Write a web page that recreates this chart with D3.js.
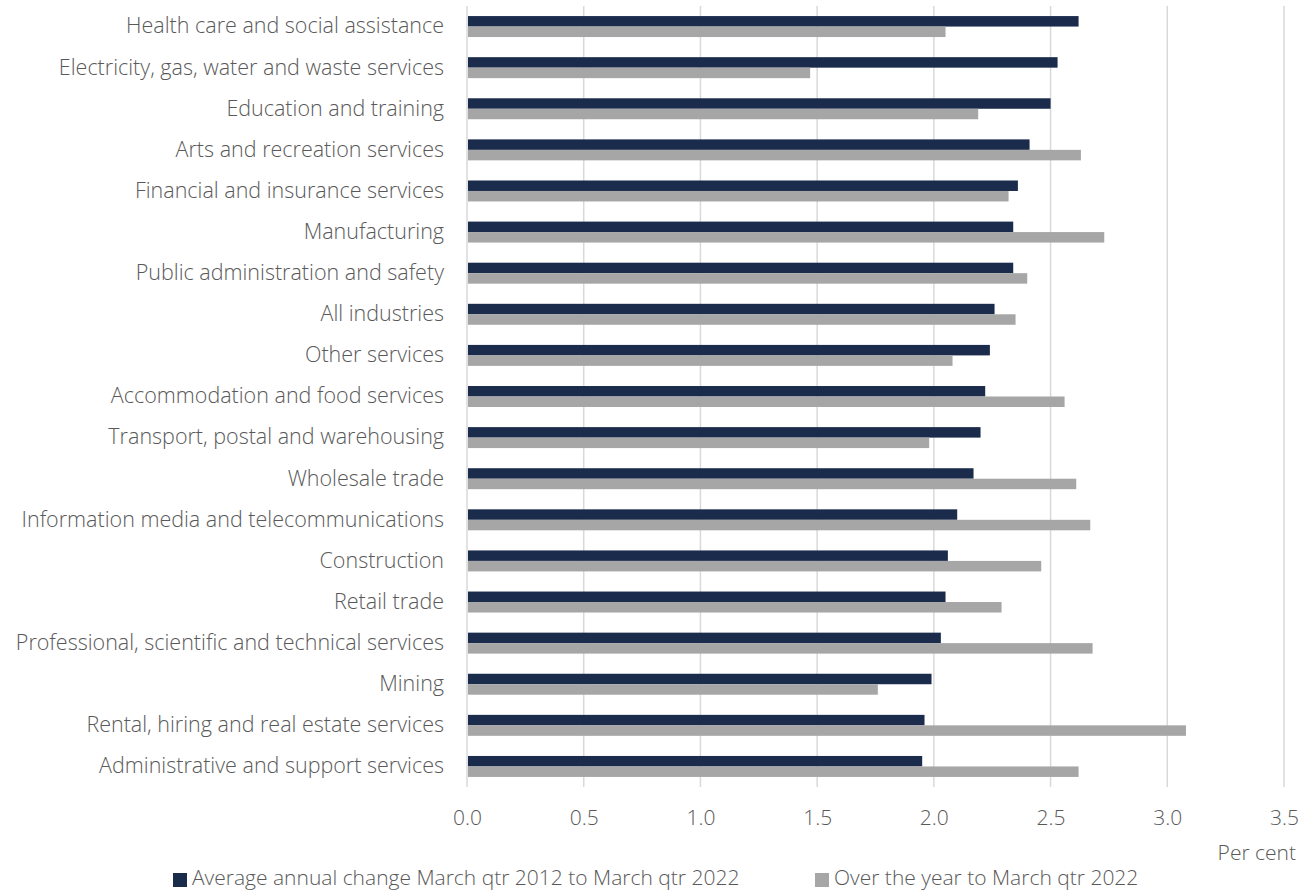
<!DOCTYPE html>
<html lang="en">
<head>
  <meta charset="UTF-8">
  <title>Wage growth by industry</title>
  <script src="https://cdn.jsdelivr.net/npm/d3@7"></script>
  <style>
    body { margin: 0; background: #fff; }
    text { font-family: "Open Sans", sans-serif; font-weight: 300; fill: #595959; }
  </style>
</head>
<body>
  <svg class="chart"></svg>
</body>
</html>
<script>
  var svgWidth = 1314;
  var svgHeight = 892;

  var industries = [
    'Health care and social assistance',
    'Electricity, gas, water and waste services',
    'Education and training',
    'Arts and recreation services',
    'Financial and insurance services',
    'Manufacturing',
    'Public administration and safety',
    'All industries',
    'Other services',
    'Accommodation and food services',
    'Transport, postal and warehousing',
    'Wholesale trade',
    'Information media and telecommunications',
    'Construction',
    'Retail trade',
    'Professional, scientific and technical services',
    'Mining',
    'Rental, hiring and real estate services',
    'Administrative and support services'
  ];
  var avgAnnual = [2.62, 2.53, 2.50, 2.41, 2.36, 2.34, 2.34, 2.26, 2.24, 2.22, 2.20, 2.17, 2.10, 2.06, 2.05, 2.03, 1.99, 1.96, 1.95];
  var overYear = [2.05, 1.47, 2.19, 2.63, 2.32, 2.73, 2.40, 2.35, 2.08, 2.56, 1.98, 2.61, 2.67, 2.46, 2.29, 2.68, 1.76, 3.08, 2.62];
  var seriesNames = ['Average annual change March qtr 2012 to March qtr 2022', 'Over the year to March qtr 2022'];
  var seriesColors = ['#1b2b4b', '#a6a6a6'];
  var xTicks = [0, 0.5, 1, 1.5, 2, 2.5, 3, 3.5];

  var margin = {top: 6, right: 30, bottom: 105, left: 467};
  var chartWidth = 1284 - margin.left;
  var chartHeight = 787 - margin.top;

  var xScale = d3.scaleLinear().domain([0, 3.5]).range([0, chartWidth]);
  var yScale = d3.scaleBand().domain(industries).range([0, chartHeight]).paddingInner(0.49).paddingOuter(0.245);
  var subScale = d3.scaleBand().domain([0, 1]).range([0, yScale.bandwidth()]);

  var svg = d3.select('.chart').attr('width', svgWidth).attr('height', svgHeight);
  var chart = svg.append('g').attr('transform', 'translate(' + margin.left + ',' + margin.top + ')');

  // gridlines
  chart.selectAll('line.grid')
    .data(xTicks)
    .enter()
    .append('line')
    .attr('class', 'grid')
    .attr('x1', function(d) { return xScale(d); })
    .attr('x2', function(d) { return xScale(d); })
    .attr('y1', 0)
    .attr('y2', chartHeight)
    .attr('stroke', '#d9d9d9')
    .attr('stroke-width', 1.5);

  var rows = industries.map(function(name, i) {
    return {name: name, values: [avgAnnual[i], overYear[i]]};
  });

  var group = chart.selectAll('g.row')
    .data(rows)
    .enter()
    .append('g')
    .attr('class', 'row')
    .attr('transform', function(d) { return 'translate(0,' + yScale(d.name) + ')'; });

  group.selectAll('rect')
    .data(function(d) { return d.values; })
    .enter()
    .append('rect')
    .attr('x', xScale(0) + 1)
    .attr('y', function(d, i) { return subScale(i); })
    .attr('width', function(d) { return xScale(d) - 1; })
    .attr('height', subScale.bandwidth())
    .attr('fill', function(d, i) { return seriesColors[i]; });

  // category labels
  var yAxis = d3.axisLeft(yScale).tickSize(0).tickPadding(23);
  var yG = chart.append('g').call(yAxis);
  yG.select('.domain').remove();
  yG.selectAll('text').attr('font-size', 21.5).style('font-family', '"Open Sans", sans-serif').attr('fill', '#595959');

  // x tick labels
  var xAxis = d3.axisBottom(xScale).tickValues(xTicks).tickFormat(d3.format('.1f')).tickSize(0).tickPadding(23);
  var xG = chart.append('g').attr('transform', 'translate(0,' + chartHeight + ')').call(xAxis);
  xG.select('.domain').remove();
  xG.selectAll('text').attr('font-size', 21).style('font-family', '"Open Sans", sans-serif').attr('fill', '#595959');

  svg.append('text')
    .attr('x', 1296)
    .attr('y', 860)
    .attr('text-anchor', 'end')
    .attr('font-size', 21)
    .text('Per cent');

  // legend
  var legendX = [173, 815];
  var legend = svg.selectAll('g.legend')
    .data(seriesNames)
    .enter()
    .append('g')
    .attr('class', 'legend')
    .attr('transform', function(d, i) { return 'translate(' + legendX[i] + ',873)'; });
  legend.append('rect')
    .attr('width', 14)
    .attr('height', 14)
    .attr('fill', function(d, i) { return seriesColors[i]; });
  legend.append('text')
    .attr('x', 19)
    .attr('y', 12)
    .attr('font-size', 21)
    .text(function(d) { return d; });
</script>
